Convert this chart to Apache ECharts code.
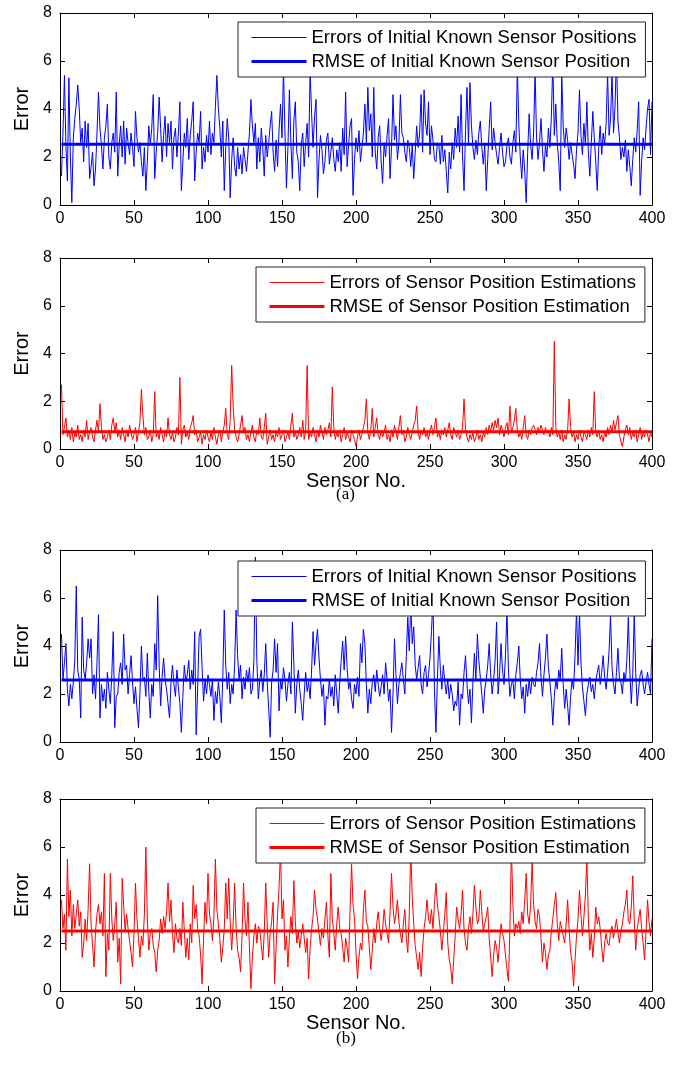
<!DOCTYPE html>
<html>
<head>
<meta charset="utf-8">
<script src="https://cdn.jsdelivr.net/npm/echarts@6/dist/echarts.min.js"></script>
<style>
html, body { margin: 0; padding: 0; background: #fff; }
#main { width: 698px; height: 1068px; }
</style>
</head>
<body>
<div id="main"></div>
<script>
// errors of initial known sensor positions, case (a)
const errInitA = [
  1.2, 3.0, 5.4, 2.5, 1.0, 5.3, 2.0, 0.1, 2.8, 3.6, 4.2, 5.0, 4.0, 2.6, 3.2, 1.8, 3.5, 2.4, 3.4, 1.1,
  1.6, 2.2, 0.8, 1.5, 3.0, 4.7, 3.2, 2.5, 1.5, 2.8, 3.3, 4.2, 2.0, 1.5, 2.6, 3.0, 2.2, 4.7, 1.2, 2.5,
  3.3, 2.0, 3.5, 1.7, 3.2, 2.6, 2.1, 3.0, 2.4, 1.6, 3.9, 2.8, 2.2, 2.6, 1.8, 1.2, 2.4, 0.6, 1.8, 3.3,
  2.5, 3.2, 4.6, 1.1, 2.2, 3.0, 4.5, 3.2, 1.8, 2.9, 3.7, 2.0, 3.4, 2.6, 3.5, 1.5, 2.8, 3.2, 2.0, 3.0,
  4.3, 0.6, 1.8, 3.0, 2.4, 3.6, 1.9, 2.9, 3.5, 4.3, 1.0, 2.2, 3.0, 2.6, 3.9, 1.5, 2.4, 1.8, 2.9, 2.2,
  3.5, 2.1, 3.0, 2.6, 4.1, 5.4, 4.0, 3.2, 2.0, 3.5, 0.6, 2.4, 3.6, 2.8, 0.3, 1.9, 2.8, 1.6, 1.2, 2.4,
  1.5, 2.1, 1.3, 2.4, 1.9, 1.4, 2.2, 3.0, 4.4, 3.3, 2.6, 3.4, 1.5, 2.8, 1.8, 3.2, 2.4, 1.2, 2.9, 2.0,
  2.6, 3.3, 3.9, 2.2, 1.4, 2.7, 1.6, 3.1, 4.2, 2.8, 5.7, 3.0, 0.7, 2.4, 4.8, 2.6, 1.1, 3.5, 4.3, 2.2,
  1.8, 0.6, 2.5, 3.0, 1.6, 2.6, 3.4, 2.0, 5.6, 3.8, 2.4, 3.7, 4.4, 0.3, 1.9, 2.9, 2.3, 1.3, 1.8, 2.7,
  3.0, 1.7, 2.2, 2.8, 1.9, 1.4, 2.3, 1.8, 2.6, 1.4, 3.2, 2.1, 4.7, 1.6, 2.5, 3.3, 3.6, 0.4, 1.9, 2.8,
  2.2, 3.1, 1.8, 2.4, 3.0, 4.2, 2.6, 4.9, 3.1, 3.8, 2.0, 4.9, 2.2, 1.5, 2.8, 3.3, 1.8, 0.9, 2.6, 2.0,
  2.9, 3.6, 1.1, 2.4, 4.6, 2.7, 3.3, 1.9, 2.6, 4.6, 3.0, 2.8, 2.2, 1.8, 2.7, 2.4, 1.6, 2.5, 1.1, 2.2,
  3.3, 2.4, 3.0, 4.6, 2.2, 4.8, 3.4, 2.9, 4.3, 2.1, 3.3, 2.7, 1.9, 1.8, 2.6, 2.5, 1.7, 2.9, 1.8, 2.3,
  1.4, 0.5, 2.2, 1.5, 2.6, 1.9, 3.2, 2.4, 3.7, 2.2, 4.6, 2.0, 0.6, 3.1, 4.9, 2.5, 5.1, 3.3, 2.4, 1.9,
  2.7, 2.1, 3.0, 3.5, 2.4, 1.7, 2.5, 0.6, 1.9, 3.2, 4.3, 2.3, 3.2, 2.6, 2.1, 1.7, 2.4, 3.0, 2.2, 1.6,
  1.8, 2.5, 2.8, 2.0, 1.7, 2.6, 3.1, 2.2, 5.8, 3.4, 2.0, 1.1, 2.3, 1.4, 0.1, 2.2, 3.8, 2.5, 1.9, 3.0,
  5.6, 2.8, 1.9, 2.6, 3.6, 2.3, 1.4, 2.5, 2.0, 3.2, 2.4, 3.7, 6.0, 2.9, 4.2, 2.6, 1.8, 0.6, 5.5, 3.3,
  2.4, 3.2, 2.7, 1.9, 2.6, 2.1, 1.7, 1.1, 2.3, 3.0, 4.8, 2.9, 2.1, 3.4, 2.5, 4.3, 2.2, 1.2, 2.6, 3.9,
  2.8, 1.8, 0.6, 2.4, 3.3, 2.1, 3.0, 2.5, 3.4, 5.5, 2.9, 3.6, 5.5, 3.0, 4.1, 6.2, 3.5, 2.8, 1.9, 2.4,
  2.0, 2.7, 1.4, 2.3, 1.6, 0.8, 1.9, 2.8, 2.2, 3.1, 4.3, 0.4, 1.8, 2.8, 2.3, 3.2, 4.0, 4.4, 2.1, 4.3
];

// errors of sensor position estimations, case (a)
const errEstA = [
  2.7, 0.6, 0.9, 1.3, 0.5, 0.8, 0.4, 0.9, 0.3, 0.7, 0.5, 1.0, 0.4, 0.6, 0.3, 0.8, 0.5, 1.2, 0.4, 0.7,
  0.9, 0.5, 0.3, 0.8, 1.2, 0.7, 1.9, 0.9, 0.4, 0.6, 0.3, 0.5, 0.8, 0.4, 1.0, 1.3, 0.7, 1.1, 0.5, 0.8,
  0.4, 0.9, 0.6, 0.3, 0.8, 0.5, 1.0, 0.7, 0.4, 0.6, 0.9, 0.3, 0.7, 1.1, 2.5, 1.4, 0.6, 0.9, 0.4, 0.5,
  0.8, 0.3, 0.6, 2.4, 0.5, 0.7, 0.4, 0.9, 0.6, 0.3, 0.8, 0.5, 1.3, 0.6, 0.4, 0.7, 0.3, 0.5, 0.9, 0.6,
  3.0, 0.2, 0.8, 1.0, 0.5, 0.7, 0.4, 0.9, 1.1, 1.4, 0.6, 0.8, 0.3, 0.5, 0.7, 0.2, 0.6, 0.4, 0.8, 0.5,
  0.3, 0.7, 0.4, 0.9, 0.5, 0.2, 0.6, 0.8, 0.3, 0.7, 1.0, 1.7, 0.6, 0.4, 1.2, 3.5, 1.8, 0.8, 0.5, 0.3,
  0.6, 1.0, 1.4, 0.7, 0.9, 0.4, 0.6, 0.3, 0.7, 1.0, 0.5, 0.3, 0.8, 0.6, 1.3, 0.5, 0.4, 0.9, 1.5, 0.2,
  0.5, 0.8, 0.4, 0.6, 0.3, 0.7, 0.5, 0.9, 0.4, 0.6, 0.8, 0.3, 0.5, 0.7, 0.4, 1.0, 1.5, 0.5, 0.7, 0.4,
  0.6, 0.9, 0.5, 1.2, 0.4, 0.8, 3.5, 0.4, 0.7, 0.5, 0.9, 0.6, 0.3, 0.8, 0.5, 1.0, 0.7, 0.4, 0.9, 0.6,
  0.8, 1.1, 0.5, 2.6, 0.9, 0.4, 0.7, 0.5, 0.8, 0.3, 0.6, 0.9, 0.4, 0.7, 0.5, 0.3, 0.8, 0.6, 0.4, 0.1,
  0.5, 0.8, 0.4, 0.6, 0.9, 1.2, 2.1, 0.7, 0.4, 0.8, 1.7, 0.5, 0.9, 1.3, 0.6, 0.4, 0.8, 0.5, 0.7, 1.0,
  0.4, 0.6, 0.3, 0.8, 0.5, 1.0, 0.7, 0.4, 0.9, 1.4, 0.6, 0.8, 0.3, 0.5, 0.9, 0.6, 0.4, 0.7, 1.0, 1.2,
  1.8, 0.7, 0.4, 0.8, 0.6, 0.9, 0.5, 0.7, 0.4, 0.8, 1.0, 0.6, 0.9, 1.3, 0.5, 0.7, 0.4, 0.8, 0.6, 0.9,
  0.5, 0.8, 1.1, 0.6, 0.4, 0.9, 0.7, 0.5, 0.8, 0.4, 0.6, 0.9, 2.1, 0.8, 0.5, 0.3, 0.6, 0.4, 0.7, 0.3,
  0.5, 0.8, 0.4, 0.6, 0.3, 0.7, 0.5, 0.9, 0.6, 1.0, 0.7, 1.1, 0.8, 1.2, 0.9, 1.3, 0.6, 1.0, 0.8, 0.5,
  0.9, 1.1, 0.6, 1.8, 0.7, 0.9, 1.2, 1.7, 0.8, 0.5, 0.7, 0.4, 0.9, 1.4, 0.6, 0.4, 0.8, 0.6, 0.9, 1.0,
  0.8, 0.6, 0.9, 0.7, 1.0, 0.8, 0.6, 0.9, 0.7, 0.8, 0.5, 0.9, 0.6, 4.5, 0.9, 0.5, 0.7, 0.4, 0.8, 0.3,
  0.6, 0.4, 0.8, 2.1, 0.9, 0.5, 0.7, 0.3, 0.6, 0.4, 0.8, 0.5, 0.3, 0.7, 0.6, 0.4, 0.8, 0.5, 0.9, 0.6,
  2.4, 0.7, 0.5, 0.8, 0.4, 0.6, 0.3, 0.7, 0.5, 0.9, 0.6, 1.0, 0.7, 1.2, 0.8, 1.1, 1.4, 0.6, 0.3, 0.1,
  0.5, 0.8, 1.0, 0.6, 0.9, 0.4, 0.7, 0.5, 0.8, 0.3, 0.6, 0.9, 0.4, 0.7, 0.5, 0.8, 0.6, 0.3, 0.7, 0.5
];

// errors of initial known sensor positions, case (b)
const errInitB = [
  4.5, 2.6, 3.3, 4.1, 2.2, 1.5, 2.4, 1.8, 2.5, 3.4, 6.5, 3.0, 2.6, 1.0, 5.2, 3.0, 2.6, 3.3, 4.3, 3.5,
  4.3, 2.0, 2.8, 1.8, 3.3, 5.3, 1.0, 2.4, 1.7, 2.2, 1.4, 2.9, 2.2, 1.6, 2.8, 4.6, 0.6, 1.9, 2.0, 2.9,
  3.3, 2.4, 4.5, 3.0, 3.2, 2.0, 2.8, 3.6, 2.5, 1.6, 2.3, 1.4, 0.6, 2.0, 4.0, 2.6, 2.7, 1.9, 3.7, 2.1,
  1.0, 2.4, 1.9, 4.1, 3.0, 6.1, 3.2, 1.5, 2.7, 3.5, 2.6, 2.2, 1.6, 1.0, 2.5, 3.2, 2.4, 1.9, 3.0, 2.3,
  1.6, 0.4, 1.9, 3.2, 2.5, 2.8, 3.4, 2.2, 3.0, 2.4, 4.6, 0.3, 2.2, 4.4, 4.7, 3.1, 1.7, 2.6, 2.0, 2.8,
  2.4, 1.9, 2.6, 0.9, 2.1, 1.6, 2.5, 1.9, 0.8, 2.7, 5.5, 3.2, 2.2, 2.9, 1.6, 2.4, 2.0, 3.2, 5.5, 3.6,
  2.6, 3.2, 1.8, 2.7, 2.2, 3.0, 2.5, 3.1, 2.0, 2.2, 3.4, 7.7, 3.4, 1.8, 2.6, 3.0, 2.1, 2.8, 4.1, 2.5,
  1.4, 0.2, 2.5, 3.0, 4.3, 2.9, 4.1, 1.3, 2.6, 2.2, 3.1, 2.6, 1.7, 2.4, 2.9, 2.0, 5.0, 3.3, 1.2, 2.4,
  3.0, 2.2, 1.6, 0.9, 2.0, 2.9, 2.1, 2.5, 1.8, 3.0, 4.6, 3.2, 4.1, 4.7, 3.5, 2.6, 1.9, 2.4, 0.7, 1.9,
  1.8, 2.6, 1.9, 2.3, 1.5, 2.8, 2.0, 1.2, 2.5, 3.4, 4.2, 3.0, 4.4, 3.1, 2.2, 2.5, 1.8, 1.4, 2.4, 2.0,
  2.7, 1.9, 4.1, 3.3, 4.7, 4.1, 2.4, 1.2, 2.2, 1.6, 2.5, 2.8, 2.1, 3.0, 2.4, 1.9, 2.3, 2.8, 2.0, 3.3,
  2.6, 1.7, 2.2, 0.4, 2.0, 4.3, 2.8, 1.6, 2.4, 2.9, 3.3, 2.6, 2.0, 3.6, 5.2, 3.8, 5.8, 4.1, 4.8, 3.2,
  2.6, 3.1, 3.6, 2.4, 2.0, 2.9, 3.2, 2.3, 2.8, 3.5, 4.6, 6.0, 2.2, 0.4, 2.6, 4.4, 3.0, 2.2, 3.2, 2.5,
  2.0, 2.6, 1.8, 2.4, 2.0, 1.3, 1.7, 1.5, 2.5, 0.7, 2.0, 1.8, 2.9, 3.6, 2.4, 1.6, 2.2, 0.8, 2.5, 3.7,
  2.6, 4.5, 3.4, 2.7, 2.0, 1.2, 2.2, 2.6, 3.2, 4.1, 2.8, 2.0, 2.6, 3.4, 5.0, 2.0, 2.8, 4.1, 3.0, 2.4,
  3.6, 5.5, 3.0, 1.9, 2.4, 2.6, 1.8, 2.8, 3.3, 4.0, 2.6, 1.8, 2.3, 1.2, 2.4, 1.9, 2.6, 2.0, 2.7, 2.4,
  2.3, 2.9, 3.3, 4.1, 2.7, 1.9, 2.8, 3.5, 4.5, 3.1, 2.5, 1.8, 0.7, 1.9, 2.6, 2.2, 3.0, 2.6, 3.9, 2.4,
  1.4, 2.2, 1.5, 0.7, 1.9, 2.6, 2.2, 3.6, 5.5, 3.2, 5.4, 3.3, 2.3, 1.7, 1.1, 2.0, 2.4, 2.7, 2.1, 2.4,
  1.8, 2.5, 2.9, 3.2, 2.4, 2.9, 3.6, 2.7, 2.2, 2.9, 3.8, 5.3, 3.1, 2.4, 2.0, 2.9, 3.9, 2.6, 2.5, 2.0,
  2.9, 2.5, 3.4, 5.2, 3.0, 1.6, 2.8, 5.4, 2.9, 1.5, 2.2, 2.8, 3.0, 2.4, 2.0, 2.5, 2.9, 2.4, 2.0, 4.3
];

// errors of sensor position estimations, case (b)
const errEstB = [
  3.8, 2.6, 3.2, 1.7, 5.5, 3.1, 4.2, 2.3, 3.6, 2.6, 3.2, 3.8, 2.7, 3.3, 1.4, 2.0, 3.0, 2.1, 3.4, 5.3,
  2.8, 1.9, 1.0, 2.5, 3.2, 3.6, 2.8, 3.3, 2.3, 4.9, 0.6, 2.4, 1.7, 4.9, 3.0, 2.1, 2.8, 3.7, 1.2, 2.2,
  0.3, 4.7, 3.6, 2.5, 3.2, 2.6, 2.1, 1.6, 1.0, 2.4, 4.5, 3.0, 2.2, 1.4, 2.3, 1.9, 3.2, 6.0, 3.0, 1.7,
  2.4, 2.6, 1.9, 1.6, 0.8, 1.7, 2.1, 3.0, 2.4, 3.1, 2.6, 3.3, 4.5, 2.9, 3.8, 2.4, 1.6, 2.8, 2.2, 2.0,
  2.6, 1.9, 3.7, 2.5, 1.4, 2.2, 1.3, 2.8, 2.0, 4.4, 3.0, 3.6, 2.6, 2.3, 1.5, 0.3, 2.2, 3.7, 2.8, 4.9,
  3.2, 2.8, 2.1, 3.1, 5.5, 3.4, 2.8, 2.2, 1.2, 1.8, 2.6, 4.5, 3.0, 4.7, 2.9, 1.7, 2.8, 4.5, 2.6, 1.7,
  1.4, 0.8, 2.3, 4.5, 3.0, 2.3, 3.7, 1.8, 0.1, 1.4, 2.3, 2.8, 2.0, 2.7, 2.6, 1.9, 1.3, 2.4, 4.5, 2.8,
  1.4, 2.4, 2.9, 3.7, 0.3, 1.8, 3.2, 4.3, 5.9, 3.0, 3.8, 1.7, 2.3, 1.0, 2.2, 3.1, 2.4, 4.6, 2.9, 2.0,
  2.5, 1.8, 2.3, 2.8, 2.8, 1.6, 2.2, 0.5, 1.8, 2.6, 3.1, 4.2, 3.4, 3.0, 2.4, 1.9, 2.6, 2.2, 3.0, 3.7,
  2.3, 1.4, 4.9, 3.0, 2.4, 1.7, 2.8, 3.5, 2.6, 2.4, 1.8, 1.2, 2.2, 1.8, 1.2, 3.4, 5.3, 3.6, 3.0, 1.6,
  0.5, 1.4, 2.0, 1.7, 3.4, 4.2, 2.9, 2.7, 1.8, 0.9, 1.7, 2.6, 2.0, 2.8, 3.3, 2.6, 2.1, 2.6, 3.4, 2.8,
  2.4, 2.0, 3.3, 4.9, 3.5, 2.8, 3.2, 3.8, 2.9, 2.4, 2.0, 2.8, 3.4, 2.2, 1.6, 3.2, 5.9, 3.9, 2.8, 1.9,
  1.4, 0.9, 1.6, 0.6, 1.8, 2.6, 3.1, 3.8, 3.0, 2.8, 3.4, 2.6, 3.6, 4.5, 3.6, 3.1, 2.5, 1.7, 2.4, 3.2,
  4.1, 2.0, 1.3, 1.0, 0.3, 1.3, 2.3, 3.5, 3.0, 2.6, 3.2, 4.2, 2.6, 2.0, 1.7, 2.6, 3.1, 2.4, 3.2, 4.4,
  3.5, 2.8, 3.0, 4.2, 3.3, 2.5, 2.8, 3.1, 3.5, 2.2, 1.4, 0.6, 1.5, 2.1, 1.8, 1.2, 2.0, 2.8, 2.4, 2.1,
  1.5, 0.9, 0.4, 2.6, 6.0, 3.6, 2.3, 2.8, 2.6, 2.9, 2.4, 3.3, 2.8, 3.8, 4.9, 3.2, 2.8, 3.6, 5.4, 3.6,
  2.9, 2.6, 3.4, 3.1, 2.2, 1.2, 2.0, 1.6, 0.9, 1.5, 1.7, 2.5, 3.0, 3.6, 4.1, 2.8, 2.1, 2.9, 2.6, 2.3,
  2.0, 2.8, 3.8, 2.6, 1.6, 1.2, 0.2, 1.3, 2.3, 3.0, 4.2, 3.2, 2.3, 3.1, 4.0, 5.5, 3.0, 1.7, 2.4, 1.4,
  2.2, 3.5, 2.8, 3.1, 2.6, 1.8, 1.2, 2.0, 2.4, 2.0, 1.9, 2.5, 2.7, 2.2, 2.6, 3.0, 2.4, 2.0, 2.5, 2.8,
  3.3, 3.6, 4.2, 2.9, 2.8, 3.5, 4.8, 3.0, 1.7, 2.6, 3.0, 3.4, 2.6, 2.0, 1.3, 2.5, 3.8, 2.9, 2.3, 3.0
];

// RMSE levels
const rmseInitA = 2.53;
const rmseEstA = 0.72;
const rmseInitB = 2.58;
const rmseEstB = 2.5;

const namesInit = ['Errors of Initial Known Sensor Positions', 'RMSE of Initial Known Sensor Position'];
const namesEst = ['Errors of Sensor Position Estimations', 'RMSE of Sensor Position Estimation'];

const panels = [
  { err: errInitA, rmse: rmseInitA, color: '#0000ff', names: namesInit, top: 13, height: 192, legendLeft: 238, legendTop: 22, xName: '' },
  { err: errEstA, rmse: rmseEstA, color: '#ff0000', names: namesEst, top: 258, height: 191, legendLeft: 256, legendTop: 267, xName: 'Sensor No.' },
  { err: errInitB, rmse: rmseInitB, color: '#0000ff', names: namesInit, top: 550, height: 192, legendLeft: 238, legendTop: 561, xName: '' },
  { err: errEstB, rmse: rmseEstB, color: '#ff0000', names: namesEst, top: 799, height: 192, legendLeft: 256, legendTop: 808, xName: 'Sensor No.' }
];

const font = 'Liberation Sans, Arial, sans-serif';
const axLine = { show: true, onZero: false, lineStyle: { color: '#000', width: 1 } };
const axTick = { show: true, inside: true, length: 5, lineStyle: { color: '#000', width: 1 } };

let grid = [], xAxis = [], yAxis = [], series = [], legend = [];

panels.forEach((p, k) => {
  grid.push({ left: 60, top: p.top, width: 592, height: p.height });

  xAxis.push({
    type: 'value', gridIndex: k, min: 0, max: 400, interval: 50,
    axisLine: axLine, axisTick: axTick, splitLine: { show: false },
    axisLabel: { color: '#000', fontSize: 16, fontFamily: font, margin: 6 },
    name: p.xName, nameLocation: 'middle', nameGap: 19,
    nameTextStyle: { color: '#000', fontSize: 20, fontFamily: font }
  });
  xAxis.push({
    type: 'value', gridIndex: k, position: 'top', min: 0, max: 400, interval: 50,
    axisLine: axLine, axisTick: axTick, splitLine: { show: false }, axisLabel: { show: false }
  });
  yAxis.push({
    type: 'value', gridIndex: k, min: 0, max: 8, interval: 2,
    axisLine: axLine, axisTick: axTick, splitLine: { show: false },
    axisLabel: { color: '#000', fontSize: 16, fontFamily: font, margin: 8 },
    name: 'Error', nameLocation: 'middle', nameGap: 28, nameRotate: 90,
    nameTextStyle: { color: '#000', fontSize: 20, fontFamily: font }
  });
  yAxis.push({
    type: 'value', gridIndex: k, position: 'right', min: 0, max: 8, interval: 2,
    axisLine: axLine, axisTick: axTick, splitLine: { show: false }, axisLabel: { show: false }
  });

  series.push({
    type: 'line', name: p.names[0], xAxisIndex: 2 * k, yAxisIndex: 2 * k,
    data: p.err.map((v, i) => [i + 1, v]),
    symbol: 'none', lineStyle: { color: p.color, width: 1 }, itemStyle: { color: p.color }, z: 2
  });
  series.push({
    type: 'line', name: p.names[1], xAxisIndex: 2 * k, yAxisIndex: 2 * k,
    data: [[1, p.rmse], [400, p.rmse]],
    symbol: 'none', lineStyle: { color: p.color, width: 3 }, itemStyle: { color: p.color }, z: 3
  });

  // the marker dot is made invisible so each legend entry shows only its line sample
  legend.push({
    data: [
      { name: p.names[0], lineStyle: { width: 1, color: p.color, opacity: 1 } },
      { name: p.names[1], lineStyle: { width: 3, color: p.color, opacity: 1 } }
    ],
    orient: 'vertical', left: p.legendLeft, top: p.legendTop,
    itemWidth: 55, itemHeight: 18, itemGap: 5, padding: [6, 9, 6, 12],
    backgroundColor: '#fff', borderColor: '#222', borderWidth: 1, borderRadius: 0,
    selectedMode: false, z: 10,
    itemStyle: { opacity: 0 },
    textStyle: { color: '#000', fontSize: 18.5, fontFamily: font, lineHeight: 18 }
  });
});

const chart = echarts.init(document.getElementById('main'));
chart.setOption({
  animation: false,
  backgroundColor: '#fff',
  title: [
    { text: '(a)', left: 331, top: 481, textStyle: { color: '#000', fontSize: 17, fontWeight: 'normal', fontFamily: 'Liberation Serif, serif' } },
    { text: '(b)', left: 331, top: 1025, textStyle: { color: '#000', fontSize: 17, fontWeight: 'normal', fontFamily: 'Liberation Serif, serif' } }
  ],
  grid: grid,
  xAxis: xAxis,
  yAxis: yAxis,
  legend: legend,
  series: series
});
</script>
</body>
</html>
